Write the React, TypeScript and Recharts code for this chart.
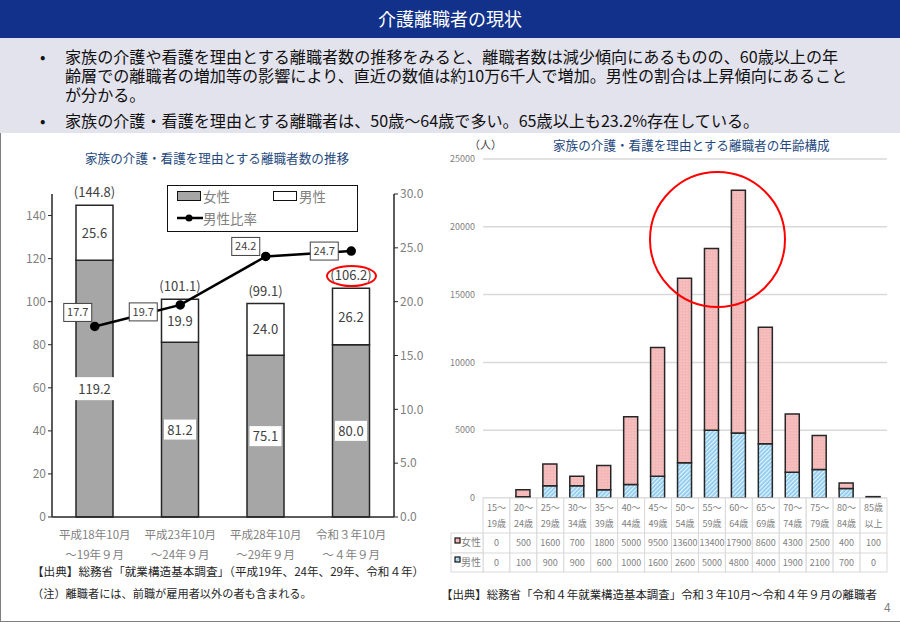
import {
  Bar,
  BarChart,
  CartesianGrid,
  ComposedChart,
  LabelList,
  Legend,
  Line,
  XAxis,
  YAxis,
} from "recharts";

const FONT = '"Noto Sans CJK JP", "Noto Sans", sans-serif';
const GREY = "#7f7f7f";

// left chart
const periodsTop = ["平成18年10月", "平成23年10月", "平成28年10月", "令和３年10月"];
const periodsBottom = ["～19年９月", "～24年９月", "～29年９月", "～４年９月"];
const womenCount = [119.2, 81.2, 75.1, 80.0];
const menCount = [25.6, 19.9, 24.0, 26.2];
const totalCount = [144.8, 101.1, 99.1, 106.2];
const menRatio = [17.7, 19.7, 24.2, 24.7];
// where each ratio label box sits relative to its point
const ratioLabelShift = [
  [-17, -14],
  [-37, 7],
  [-20, -10],
  [-27, 0],
];

const trendData = periodsTop.map((p, i) => ({
  period: p,
  bottom: periodsBottom[i],
  women: womenCount[i],
  men: menCount[i],
  total: totalCount[i],
  ratio: menRatio[i],
}));

// right chart
const ageTop = ["15～", "20～", "25～", "30～", "35～", "40～", "45～", "50～", "55～", "60～", "65～", "70～", "75～", "80～", "85歳"];
const ageBottom = ["19歳", "24歳", "29歳", "34歳", "39歳", "44歳", "49歳", "54歳", "59歳", "64歳", "69歳", "74歳", "79歳", "84歳", "以上"];
const womenByAge = [0, 500, 1600, 700, 1800, 5000, 9500, 13600, 13400, 17900, 8600, 4300, 2500, 400, 100];
const menByAge = [0, 100, 900, 900, 600, 1000, 1600, 2600, 5000, 4800, 4000, 1900, 2100, 700, 0];

const ageData = ageTop.map((a, i) => ({
  age: a,
  women: womenByAge[i],
  men: menByAge[i],
}));

const bullets = [
  "家族の介護や看護を理由とする離職者数の推移をみると、離職者数は減少傾向にあるものの、60歳以上の年齢層での離職者の増加等の影響により、直近の数値は約10万6千人で増加。男性の割合は上昇傾向にあることが分かる。",
  "家族の介護・看護を理由とする離職者は、50歳～64歳で多い。65歳以上も23.2%存在している。",
];

function PeriodTick({ x, y, payload, index }: any) {
  return (
    <g fontFamily={FONT} fontSize={11.5} fill={GREY} textAnchor="middle">
      <text x={x} y={y + 14}>{payload.value}</text>
      <text x={x} y={y + 34}>{periodsBottom[index]}</text>
    </g>
  );
}

function WomenLabel({ x, y, width, height, value }: any) {
  const cx = x + width / 2;
  const cy = y + height / 2;
  const isWide = value > 100;
  const w = isWide ? 44 : 32;
  const h = isWide ? 23 : 20;
  return (
    <g>
      <rect x={cx - w / 2} y={cy - h / 2} width={w} height={h} fill="#fff" />
      <text x={cx} y={cy + 5} textAnchor="middle" fontFamily={FONT} fontSize={13} fill="#404040">
        {value.toFixed(1)}
      </text>
    </g>
  );
}

function MenLabel({ x, y, width, height, value }: any) {
  return (
    <text x={x + width / 2} y={y + height / 2 + 5} textAnchor="middle" fontFamily={FONT} fontSize={13} fill="#404040">
      {value.toFixed(1)}
    </text>
  );
}

function TotalLabel({ x, y, width, index }: any) {
  return (
    <text x={x + width / 2} y={y - 8} textAnchor="middle" fontFamily={FONT} fontSize={13} fill="#404040">
      ({totalCount[index].toFixed(1)})
    </text>
  );
}

function RatioLabel({ x, y, index, value }: any) {
  const [dx, dy] = ratioLabelShift[index];
  const cx = x + dx;
  const cy = y + dy;
  return (
    <g>
      <rect x={cx - 14} y={cy - 9} width={28} height={18} fill="#fff" stroke="#404040" strokeWidth={1} />
      <text x={cx} y={cy + 4} textAnchor="middle" fontFamily={FONT} fontSize={11} fill="#404040">
        {value.toFixed(1)}
      </text>
    </g>
  );
}

function TrendLegend() {
  const label = { fontSize: 13.5, color: GREY, fontFamily: FONT, lineHeight: "16px" };
  const key = { display: "inline-block", width: 22, height: 8, border: "1.5px solid #111", marginRight: 2 };
  return (
    <div style={{ width: 189, height: 45, border: "1.5px solid #111", background: "#fff", position: "relative" }}>
      <div style={{ position: "absolute", left: 9, top: 2, display: "flex", alignItems: "center", ...label }}>
        <span style={{ ...key, background: "#a6a6a6" }} />女性
      </div>
      <div style={{ position: "absolute", left: 105, top: 2, display: "flex", alignItems: "center", ...label }}>
        <span style={{ ...key, background: "#fff" }} />男性
      </div>
      <div style={{ position: "absolute", left: 9, top: 24, display: "flex", alignItems: "center", ...label }}>
        <svg width={26} height={10} style={{ marginRight: 0 }}>
          <line x1={0} y1={5} x2={26} y2={5} stroke="#000" strokeWidth={2.5} />
          <circle cx={12} cy={5} r={3.5} fill="#000" />
        </svg>
        男性比率
      </div>
    </div>
  );
}

const COL_WIDTH = 26.9;
const ROWS = [0, 35, 55, 74];

function AgeTableTick({ x, y, payload, index }: any) {
  const left = x - COL_WIDTH / 2;
  const texts = { fontFamily: FONT, fontSize: 9, fill: "#808080", textAnchor: "middle" as const };
  const line = { stroke: "#d9d9d9", strokeWidth: 1 };
  const top = y - 8;
  return (
    <g>
      <rect x={left} y={top} width={COL_WIDTH} height={ROWS[3]} fill="#fff" {...line} />
      <line x1={left} x2={left + COL_WIDTH} y1={top + ROWS[1]} y2={top + ROWS[1]} {...line} />
      <line x1={left} x2={left + COL_WIDTH} y1={top + ROWS[2]} y2={top + ROWS[2]} {...line} />
      <text x={x} y={top + 13} {...texts}>{payload.value}</text>
      <text x={x} y={top + 29} {...texts}>{ageBottom[index]}</text>
      <text x={x} y={top + 48} {...texts}>{womenByAge[index]}</text>
      <text x={x} y={top + 68} {...texts}>{menByAge[index]}</text>
      {index === 0 && (
        <g>
          <rect x={left - 32} y={top + ROWS[1]} width={32} height={ROWS[2] - ROWS[1]} fill="#fff" {...line} />
          <rect x={left - 32} y={top + ROWS[2]} width={32} height={ROWS[3] - ROWS[2]} fill="#fff" {...line} />
          <rect x={left - 28} y={top + 40} width={5} height={5} fill="url(#womenDots)" stroke="#111" strokeWidth={1.2} />
          <rect x={left - 28} y={top + 59} width={5} height={5} fill="url(#menLines)" stroke="#111" strokeWidth={1.2} />
          <text x={left - 12} y={top + 48} {...texts} fontSize={10}>女性</text>
          <text x={left - 12} y={top + 68} {...texts} fontSize={10}>男性</text>
        </g>
      )}
    </g>
  );
}

function Note({ left, top, children, size = 11 }: any) {
  return (
    <div style={{ position: "absolute", left, top, fontSize: size, color: "#262626", lineHeight: "16px", whiteSpace: "nowrap" }}>
      {children}
    </div>
  );
}

export default function App() {
  return (
    <div
      style={{
        position: "absolute",
        left: 0,
        top: 0,
        width: 900,
        height: 622,
        background: "#fff",
        fontFamily: FONT,
        overflow: "hidden",
        boxShadow: "inset 1px -1px 0 #7f7f7f",
      }}
    >
      <div style={{ position: "absolute", left: 0, top: 0, width: 900, height: 38, background: "#11318a", color: "#fff", fontSize: 18, lineHeight: "36px", textAlign: "center" }}>
        介護離職者の現状
      </div>
      <div style={{ position: "absolute", left: 0, top: 38, width: 900, height: 95, background: "#e3e3ed" }}>
        {bullets.map((b, i) => (
          <div
            key={i}
            style={{
              position: "absolute",
              left: 65,
              top: i === 0 ? 9 : 73,
              width: 786,
              fontSize: 16.1,
              lineHeight: "19px",
              color: "#111",
            }}
          >
            <span style={{ position: "absolute", left: -25 }}>•</span>
            {b}
          </div>
        ))}
      </div>

      <div style={{ position: "absolute", left: 85, top: 148, fontSize: 12.6, color: "#1f497d", whiteSpace: "nowrap" }}>
        家族の介護・看護を理由とする離職者数の推移
      </div>
      <div style={{ position: "absolute", left: 553, top: 135, fontSize: 12.6, color: "#1f497d", whiteSpace: "nowrap" }}>
        家族の介護・看護を理由とする離職者の年齢構成
      </div>
      <div style={{ position: "absolute", left: 469, top: 136, fontSize: 11, color: "#404040" }}>（人）</div>

      <div style={{ position: "absolute", left: 0, top: 180 }}>
        <ComposedChart
          width={440}
          height={383}
          data={trendData}
          barSize={37}
          margin={{ top: 14, right: 0, bottom: 0, left: 0 }}
        >
          <XAxis
            dataKey="period"
            tick={<PeriodTick />}
            tickLine={false}
            axisLine={{ stroke: "#262626", strokeWidth: 1.5 }}
            interval={0}
            height={46}
          />
          <YAxis
            yAxisId="count"
            width={52}
            domain={[0, 150]}
            ticks={[0, 20, 40, 60, 80, 100, 120, 140]}
            tick={{ fill: GREY, fontSize: 12, fontFamily: FONT }}
            tickSize={4}
            tickLine={{ stroke: "#262626" }}
            axisLine={{ stroke: "#262626", strokeWidth: 1.5 }}
          />
          <YAxis
            yAxisId="ratio"
            orientation="right"
            width={46}
            domain={[0, 30]}
            ticks={[0, 5, 10, 15, 20, 25, 30]}
            tickFormatter={(v: number) => v.toFixed(1)}
            tick={{ fill: GREY, fontSize: 12, fontFamily: FONT }}
            tickSize={4}
            tickLine={{ stroke: "#262626" }}
            axisLine={{ stroke: "#262626", strokeWidth: 1.5 }}
          />
          <Legend
            content={<TrendLegend />}
            layout="horizontal"
            align="center"
            verticalAlign="middle"
            wrapperStyle={{ left: 167, top: 5, width: 192, bottom: "auto" }}
          />
          <Bar yAxisId="count" dataKey="women" stackId="a" fill="#a6a6a6" stroke="#262626" strokeWidth={1.5} isAnimationActive={false}>
            <LabelList dataKey="women" content={<WomenLabel />} />
          </Bar>
          <Bar yAxisId="count" dataKey="men" stackId="a" fill="#fff" stroke="#262626" strokeWidth={1.5} isAnimationActive={false}>
            <LabelList dataKey="men" content={<MenLabel />} />
            <LabelList dataKey="total" content={<TotalLabel />} />
          </Bar>
          <Line
            yAxisId="ratio"
            dataKey="ratio"
            stroke="#000"
            strokeWidth={2.5}
            dot={{ r: 3.5, fill: "#000", stroke: "#000" }}
            isAnimationActive={false}
          >
            <LabelList dataKey="ratio" content={<RatioLabel />} />
          </Line>
        </ComposedChart>
      </div>

      <div style={{ position: "absolute", left: 326, top: 265, width: 47, height: 18, border: "2px solid #f00", borderRadius: "50%" }} />

      <Note left={32} top={563} size={11.6}>【出典】総務省「就業構造基本調査」（平成19年、24年、29年、令和４年）</Note>
      <Note left={32} top={585} size={11.2}>（注）離職者には、前職が雇用者以外の者も含まれる。</Note>

      <div style={{ position: "absolute", left: 440, top: 150 }}>
        <BarChart
          width={460}
          height={440}
          data={ageData}
          barSize={14}
          margin={{ top: 9, right: 13, bottom: 0, left: 0 }}
        >
          <defs>
            <pattern id="womenDots" width={3} height={3} patternUnits="userSpaceOnUse">
              <rect width={3} height={3} fill="#f4b6b6" />
              <circle cx={1} cy={1} r={0.6} fill="#fbe3e3" />
            </pattern>
            <pattern id="menLines" width={3} height={3} patternUnits="userSpaceOnUse" patternTransform="rotate(45)">
              <rect width={3} height={3} fill="#8ecbf0" />
              <rect width={1.2} height={3} fill="#e4f4fc" />
            </pattern>
          </defs>
          <CartesianGrid vertical={false} stroke="#d9d9d9" strokeWidth={1.5} />
          <XAxis
            dataKey="age"
            tick={<AgeTableTick />}
            tickLine={false}
            axisLine={false}
            interval={0}
            height={92}
          />
          <YAxis
            width={43}
            domain={[0, 25000]}
            ticks={[0, 5000, 10000, 15000, 20000, 25000]}
            tick={{ fill: GREY, fontSize: 9, fontFamily: FONT }}
            tickLine={false}
            axisLine={false}
          />
          <Bar dataKey="men" stackId="a" fill="url(#menLines)" stroke="#262626" strokeWidth={1.5} isAnimationActive={false} />
          <Bar dataKey="women" stackId="a" fill="url(#womenDots)" stroke="#262626" strokeWidth={1.5} isAnimationActive={false} />
        </BarChart>
      </div>

      <div style={{ position: "absolute", left: 649, top: 171, width: 133, height: 133, border: "2px solid #f00", borderRadius: "50%" }} />

      <Note left={441} top={586} size={11.45}>【出典】総務省「令和４年就業構造基本調査」令和３年10月～令和４年９月の離職者</Note>
      <div style={{ position: "absolute", left: 884, top: 598, fontSize: 12, color: GREY }}>4</div>
    </div>
  );
}
